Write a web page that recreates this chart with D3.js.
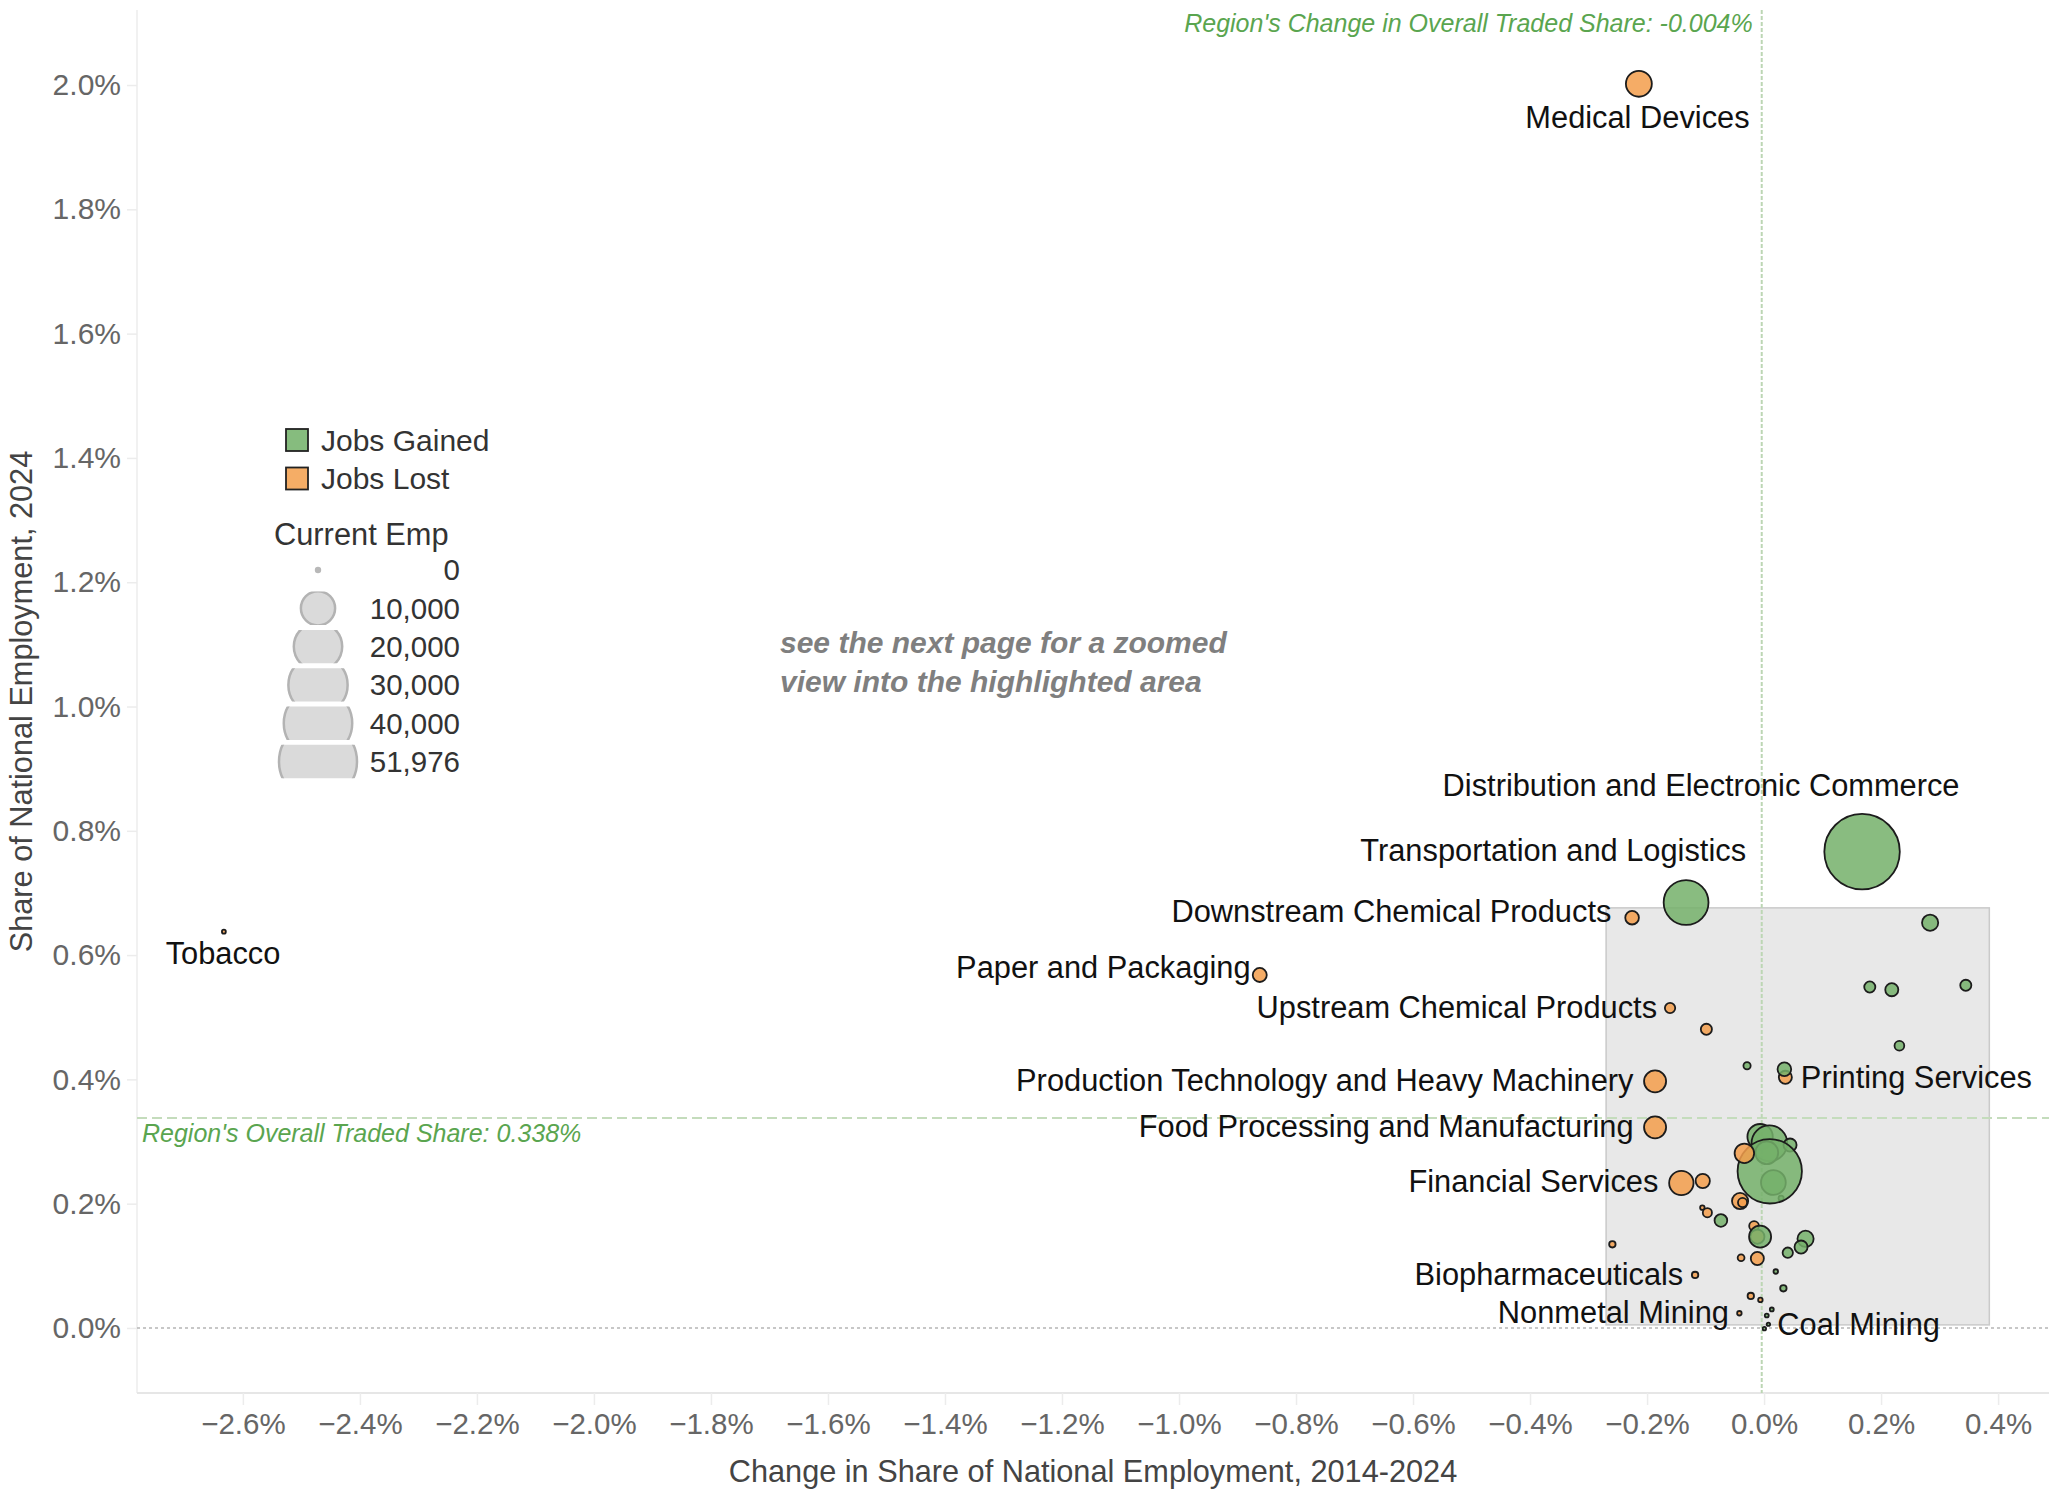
<!DOCTYPE html>
<html><head><meta charset="utf-8">
<script src="https://cdn.jsdelivr.net/npm/d3@7"></script>
<style>body{margin:0;background:#fff} svg{display:block}</style>
</head><body>
<svg id="c" width="2049" height="1494"></svg>
<script>
// ---------- DATA ----------
const xTicks = [-2.6,-2.4,-2.2,-2.0,-1.8,-1.6,-1.4,-1.2,-1.0,-0.8,-0.6,-0.4,-0.2,0.0,0.2,0.4];
const yTicks = [0.0,0.2,0.4,0.6,0.8,1.0,1.2,1.4,1.6,1.8,2.0];
// change in share (%), share 2024 (%), current employment, status (G = jobs gained, L = jobs lost)
const pointX = [-0.214,-2.6325,-0.862,0.1675,-0.1333,-0.2256,0.2838,0.1807,0.2183,0.3448,-0.1607,-0.0986,0.2313,-0.0291,0.0364,0.0347,-0.1863,-0.1863,-0.0068,0.0091,0.0046,0.0444,0.0159,0.0291,0.0097,-0.0337,-0.041,-0.0368,-0.1414,-0.1048,-0.1055,-0.0969,-0.0738,-0.0171,-0.0115,-0.0068,0.0709,0.0632,0.0405,-0.0115,-0.0393,-0.2593,-0.1179,0.02,0.033,-0.0227,-0.0063,-0.0422,0.0132,0.0046,0.0074,0.0005];
const pointY = [2.002,0.6377,0.568,0.7664,0.6846,0.6602,0.6521,0.5487,0.5443,0.5514,0.5149,0.4806,0.4542,0.422,0.4034,0.4163,0.3969,0.3229,0.3078,0.2972,0.2821,0.2944,0.2341,0.2087,0.2521,0.2811,0.2043,0.2019,0.2333,0.2365,0.1936,0.1855,0.173,0.1641,0.1469,0.1469,0.1435,0.1303,0.1212,0.1118,0.1131,0.1347,0.0853,0.0909,0.0639,0.0515,0.0451,0.0237,0.0298,0.0201,0.006,-0.0011];
const pointEmp = [5750,130,1680,48650,17185,1590,2240,1055,1460,1055,912,1055,812,445,1460,1590,4150,4150,5490,10880,4450,1460,5240,237,35375,3250,2240,718,5075,1730,172,718,1372,812,1730,4150,2240,1460,912,1460,400,354,354,172,354,354,172,172,130,130,100,100];
const pointStatus = ["L","L","L","G","G","L","G","G","G","G","L","L","G","G","L","G","L","L","G","G","G","G","G","G","G","L","L","L","L","L","L","L","G","L","L","G","G","G","G","L","L","L","L","G","G","L","L","L","G","G","G","G"];

// cluster labels: text, anchor point (in axis units), text anchor
const labelText = ["Medical Devices","Distribution and Electronic Commerce","Transportation and Logistics","Downstream Chemical Products","Paper and Packaging","Upstream Chemical Products","Production Technology and Heavy Machinery","Printing Services","Food Processing and Manufacturing","Financial Services","Biopharmaceuticals","Nonmetal Mining","Coal Mining","Tobacco"];
const labelX = [-0.2164,-0.1077,-0.0308,-0.261,-0.8776,-0.1829,-0.2231,0.0629,-0.2231,-0.1807,-0.1381,-0.06,0.0226,-2.634];
const labelY = [1.9475,0.8731,0.768,0.6713,0.5809,0.5157,0.3979,0.4042,0.3242,0.236,0.0867,0.0257,0.0068,0.6034];
const labelAnchor = ["middle","middle","end","end","end","end","end","start","end","end","end","end","start","middle"];

const legendStatus = ["Jobs Gained","Jobs Lost"];
const legendSizes = [0,10000,20000,30000,40000,51976];
const regionShare = 0.338;      // Region's overall traded share (%)
const regionChange = -0.004;    // Region's change in overall traded share (%)
const highlightX = [-0.27, 0.385];
const highlightY = [0.005, 0.676];

// ---------- LAYOUT ----------
const W = 2049, H = 1494;
const plot = {left:137, right:2049, top:10, bottom:1393};
const FONT = "'Liberation Sans', Arial, sans-serif";
const GREEN = "#74b06a", ORANGE = "#f39d4b";
const colorOf = s => s === "G" ? GREEN : ORANGE;

const x = d3.scaleLinear().domain([-2.781, 0.487]).range([plot.left, plot.right]);
const y = d3.scaleLinear().domain([-0.1046, 2.1207]).range([plot.bottom, plot.top]);
const size = d3.scaleSqrt().domain([0, 51976]).range([0, 39]);

const svg = d3.select("#c");
svg.append("rect").attr("width", W).attr("height", H).attr("fill", "#fff");

// axes lines
svg.append("line").attr("x1", plot.left).attr("x2", plot.left).attr("y1", plot.top).attr("y2", plot.bottom)
  .attr("stroke", "#ececec").attr("stroke-width", 1.5);
svg.append("line").attr("x1", plot.left).attr("x2", plot.right).attr("y1", plot.bottom).attr("y2", plot.bottom)
  .attr("stroke", "#e6e6e6").attr("stroke-width", 2);

// x axis
const xAxis = d3.axisBottom(x).tickValues(xTicks).tickSize(12).tickPadding(8)
  .tickFormat(d => d3.format(".1f")(d) + "%");
const gx = svg.append("g").attr("transform", `translate(0,${plot.bottom})`).call(xAxis);
gx.select(".domain").remove();
gx.selectAll(".tick line").attr("stroke", "#ececec").attr("stroke-width", 1.5);
gx.selectAll(".tick text").attr("font-family", FONT).attr("font-size", 29.5).attr("fill", "#666");

// y axis
const yAxis = d3.axisLeft(y).tickValues(yTicks).tickSize(10).tickPadding(6)
  .tickFormat(d => d3.format(".1f")(d) + "%");
const gy = svg.append("g").attr("transform", `translate(${plot.left},0)`).call(yAxis);
gy.select(".domain").remove();
gy.selectAll(".tick line").attr("stroke", "#ececec").attr("stroke-width", 1.5);
gy.selectAll(".tick text").attr("font-family", FONT).attr("font-size", 30).attr("fill", "#666");

// axis titles
svg.append("text").attr("x", (plot.left + plot.right) / 2).attr("y", 1482)
  .attr("text-anchor", "middle").attr("font-family", FONT).attr("font-size", 30.7).attr("fill", "#444")
  .text("Change in Share of National Employment, 2014-2024");
svg.append("text").attr("transform", `translate(32,${(plot.top + plot.bottom) / 2}) rotate(-90)`)
  .attr("text-anchor", "middle").attr("font-family", FONT).attr("font-size", 30.7).attr("fill", "#444")
  .text("Share of National Employment, 2024");

// highlight area
svg.append("rect")
  .attr("x", x(highlightX[0])).attr("y", y(highlightY[1]))
  .attr("width", x(highlightX[1]) - x(highlightX[0])).attr("height", y(highlightY[0]) - y(highlightY[1]))
  .attr("fill", "#e8e8e8").attr("stroke", "#cacaca").attr("stroke-width", 1.5);

// zero line
svg.append("line").attr("x1", plot.left).attr("x2", plot.right).attr("y1", y(0)).attr("y2", y(0))
  .attr("stroke", "#b5b5b5").attr("stroke-width", 1.5).attr("stroke-dasharray", "3,3");

// reference lines
svg.append("line").attr("x1", plot.left).attr("x2", plot.right).attr("y1", y(regionShare)).attr("y2", y(regionShare))
  .attr("stroke", "#c4dcbc").attr("stroke-width", 2).attr("stroke-dasharray", "10,5");
svg.append("line").attr("x1", x(regionChange)).attr("x2", x(regionChange)).attr("y1", plot.top).attr("y2", plot.bottom)
  .attr("stroke", "#bcd6b4").attr("stroke-width", 2).attr("stroke-dasharray", "4,2");

svg.append("text").attr("x", 142).attr("y", y(regionShare) + 24)
  .attr("font-family", FONT).attr("font-size", 25).attr("font-style", "italic").attr("fill", "#5aa54f")
  .text(`Region's Overall Traded Share: ${regionShare.toFixed(3)}%`);
svg.append("text").attr("x", x(regionChange) - 9).attr("y", 32)
  .attr("text-anchor", "end")
  .attr("font-family", FONT).attr("font-size", 25).attr("font-style", "italic").attr("fill", "#5aa54f")
  .text(`Region's Change in Overall Traded Share: ${regionChange.toFixed(3)}%`);

// note
const note = svg.append("text").attr("font-family", FONT).attr("font-size", 30)
  .attr("font-weight", "bold").attr("font-style", "italic").attr("fill", "#7f7f7f");
note.append("tspan").attr("x", 780).attr("y", 653).text("see the next page for a zoomed");
note.append("tspan").attr("x", 780).attr("y", 692).text("view into the highlighted area");

// bubbles
const pts = pointX.map((v, i) => ({x: v, y: pointY[i], emp: pointEmp[i], s: pointStatus[i]}));
svg.append("g").selectAll("circle").data(pts).join("circle")
  .attr("cx", d => x(d.x)).attr("cy", d => y(d.y))
  .attr("r", d => Math.max(size(d.emp), 1.7))
  .attr("fill", d => colorOf(d.s)).attr("fill-opacity", 0.85)
  .attr("stroke", "#1c1c1c").attr("stroke-width", 1.8);

// labels
svg.append("g").selectAll("text").data(labelText).join("text")
  .attr("x", (d, i) => x(labelX[i])).attr("y", (d, i) => y(labelY[i]))
  .attr("dy", "0.35em").attr("text-anchor", (d, i) => labelAnchor[i])
  .attr("font-family", FONT).attr("font-size", 30.8).attr("fill", "#111")
  .text(d => d);

// legend: colour
const lg = svg.append("g");
legendStatus.forEach((t, i) => {
  const cy = 440 + i * 38.5;
  lg.append("rect").attr("x", 286).attr("y", cy - 11).attr("width", 22).attr("height", 22)
    .attr("fill", i === 0 ? "#86bc7e" : "#f5ad66").attr("stroke", "#222").attr("stroke-width", 1.8);
  lg.append("text").attr("x", 321).attr("y", cy).attr("dy", "0.35em")
    .attr("font-family", FONT).attr("font-size", 30).attr("fill", "#333").text(t);
});
lg.append("text").attr("x", 274).attr("y", 534).attr("dy", "0.35em")
  .attr("font-family", FONT).attr("font-size", 30.8).attr("fill", "#333").text("Current Emp");

// legend: size
const defs = svg.append("defs");
legendSizes.forEach((v, i) => {
  const cy = 570 + i * 38.3;
  const r = v === 0 ? 3.2 : size(v);
  const clipId = "lc" + i;
  defs.append("clipPath").attr("id", clipId).append("rect")
    .attr("x", 250).attr("y", cy - 16.7).attr("width", 140).attr("height", 33.4);
  lg.append("circle").attr("cx", 318).attr("cy", cy).attr("r", r)
    .attr("clip-path", `url(#${clipId})`)
    .attr("fill", v === 0 ? "#b8b8b8" : "#dadada")
    .attr("stroke", v === 0 ? "none" : "#b3b3b3").attr("stroke-width", 2.5);
  lg.append("text").attr("x", 460).attr("y", cy).attr("dy", "0.35em").attr("text-anchor", "end")
    .attr("font-family", FONT).attr("font-size", 29.5).attr("fill", "#333")
    .text(d3.format(",")(v));
});
</script>
</body></html>
